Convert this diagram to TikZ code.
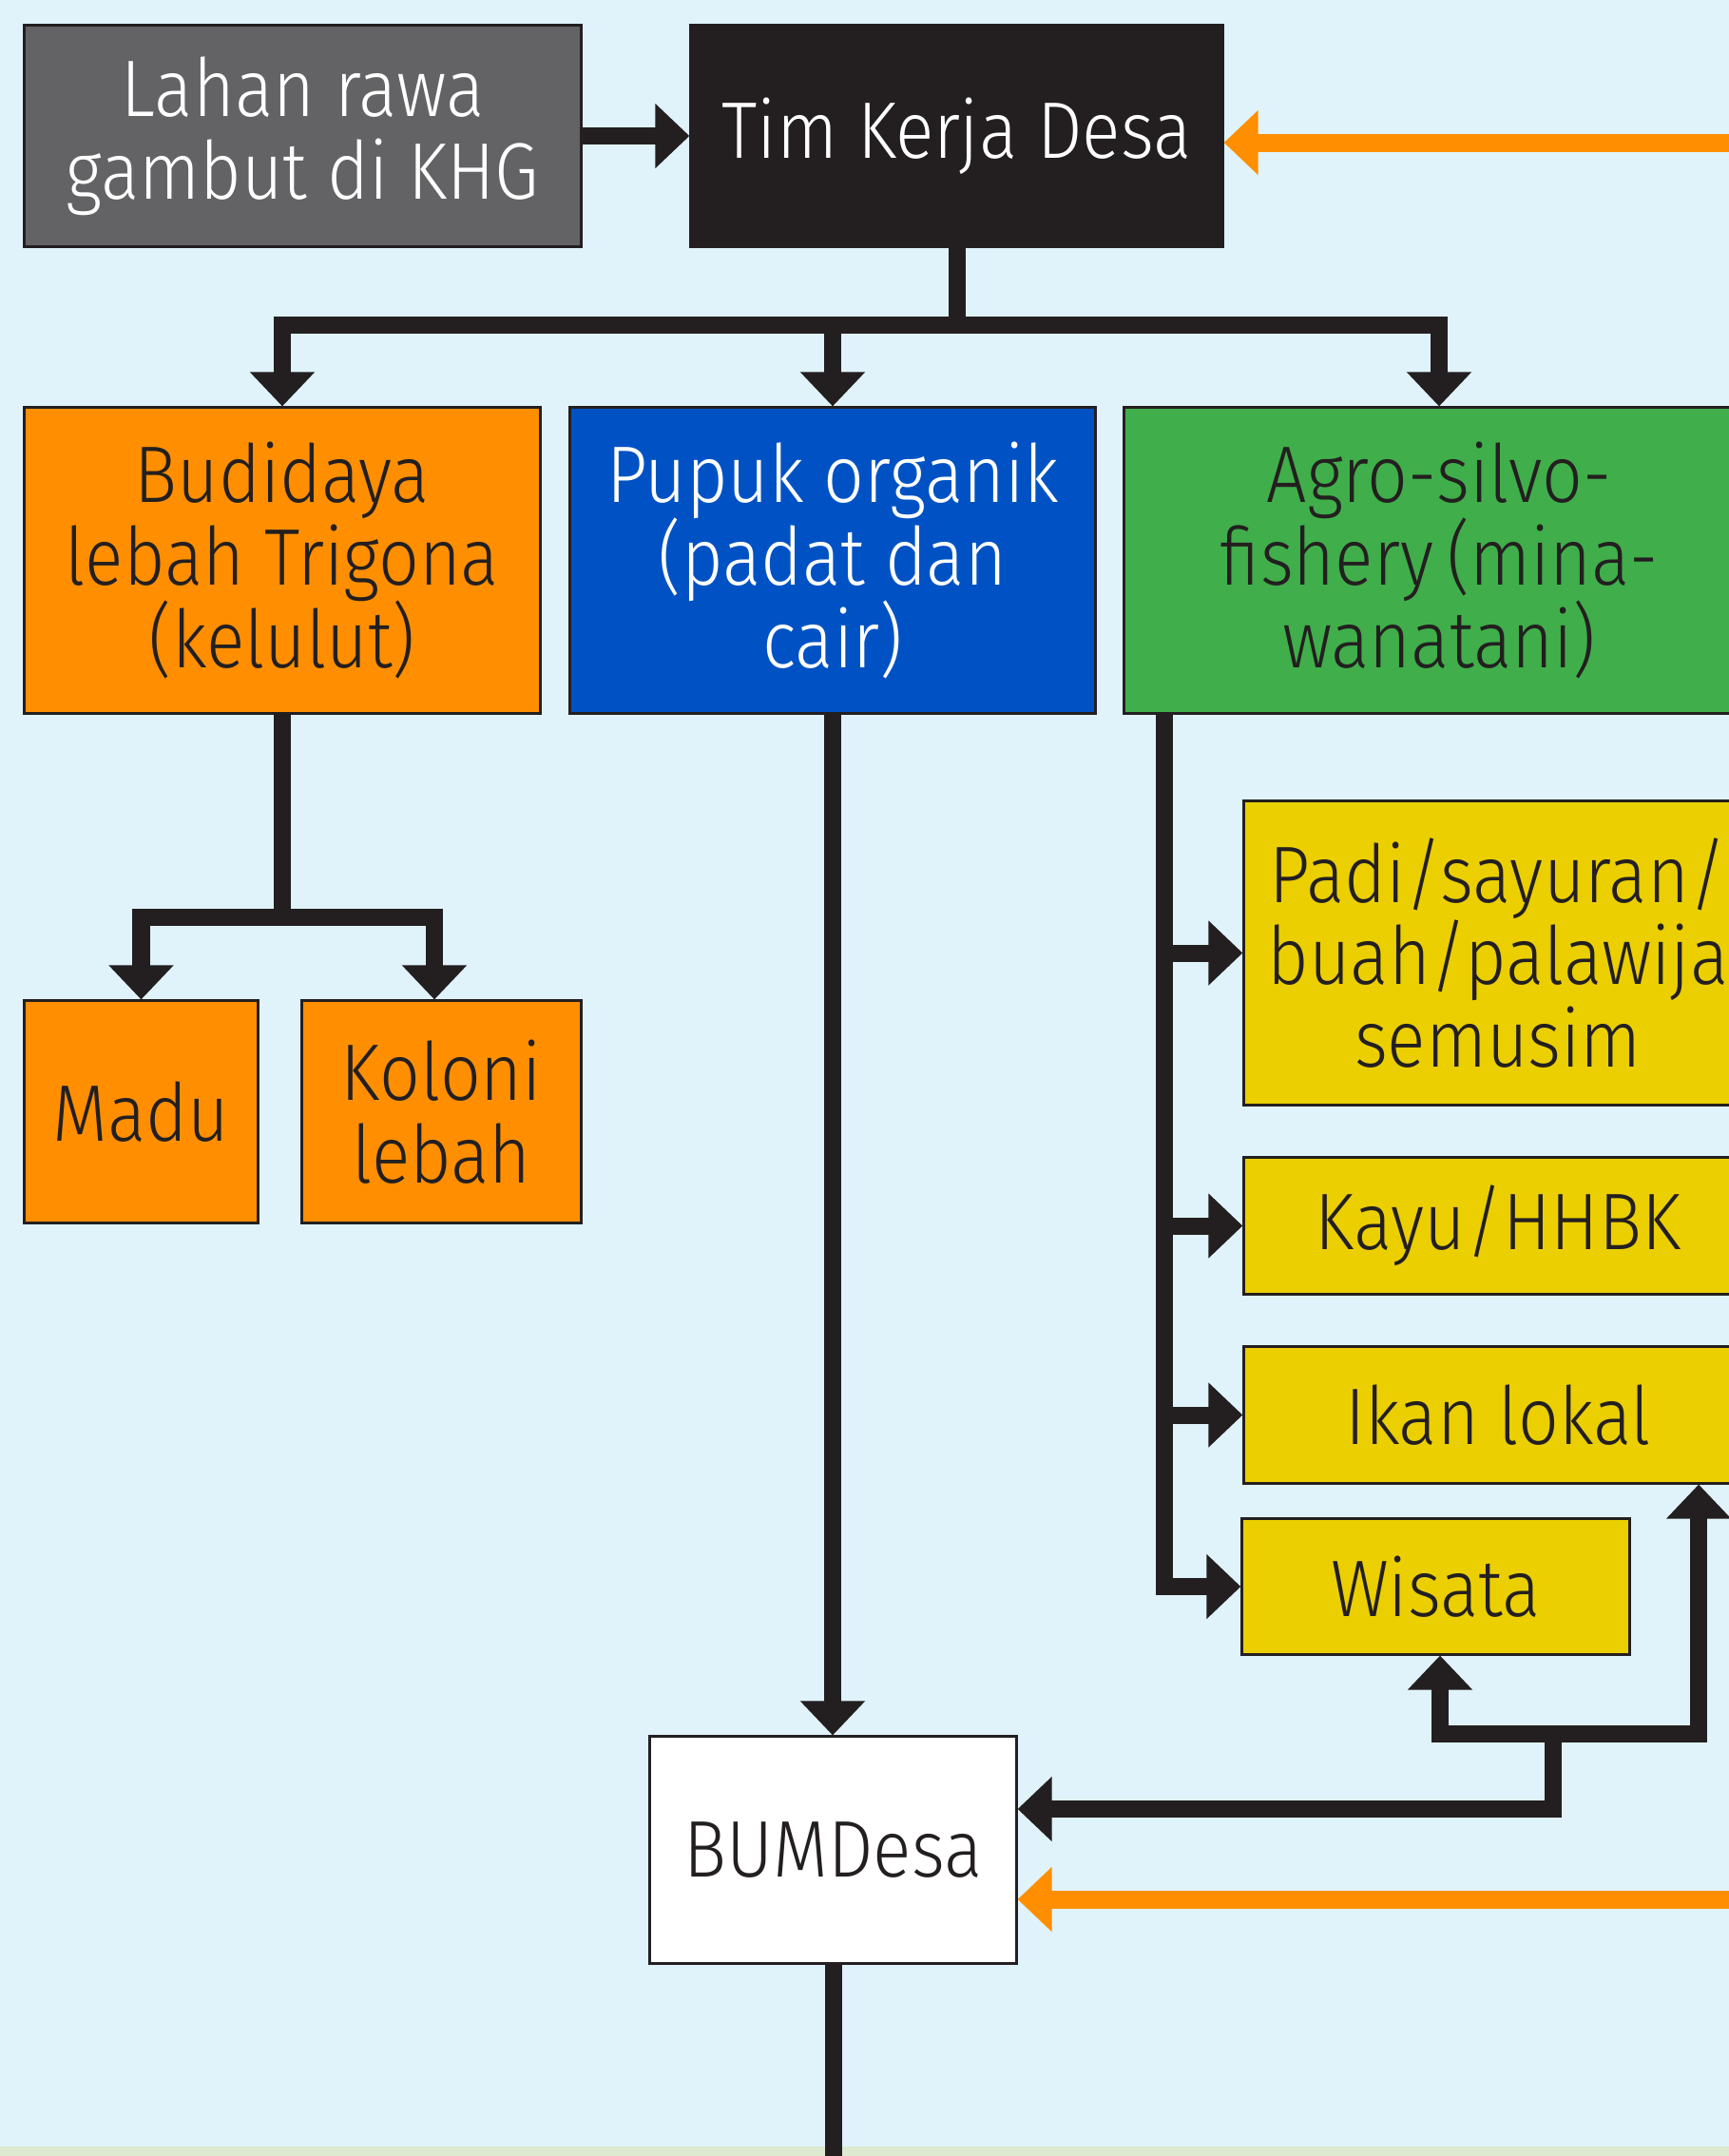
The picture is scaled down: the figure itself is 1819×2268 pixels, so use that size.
\documentclass[tikz,border=0pt]{standalone}
\usepackage{fontspec}
\setmainfont{Fira Sans}[UprightFont={* Light}, FakeStretch=0.89]
\usetikzlibrary{arrows.meta,calc}
\definecolor{bg}{RGB}{224,243,250}
\definecolor{ink}{RGB}{35,31,32}
\definecolor{grayb}{RGB}{99,99,101}
\definecolor{orng}{RGB}{255,143,0}
\definecolor{blu}{RGB}{0,82,196}
\definecolor{grn}{RGB}{64,174,74}
\definecolor{ylw}{RGB}{235,207,0}
\definecolor{strip}{RGB}{221,234,208}
\setlength{\lineskiplimit}{-20pt}
\begin{document}
\begin{tikzpicture}[x=0.01cm,y=-0.01cm,
  box/.style={draw=ink, line width=0.03cm, rectangle, inner sep=0pt, align=center,
    font=\fontsize{24pt}{24.7pt}\selectfont, text=ink},
  arr/.style={draw=ink, line width=0.18cm, line join=miter, -{Triangle[width=0.66cm,length=0.36cm]}},
  oarr/.style={draw=orng, line width=0.19cm, -{Triangle[width=0.66cm,length=0.36cm]}},
  ln/.style={draw=ink, line width=0.18cm, line join=miter}]
\useasboundingbox (0,0) rectangle (1819,2268);
\clip (0,0) rectangle (1819,2268);
\fill[bg] (0,0) rectangle (1819,2268);
\fill[strip] (0,2258) rectangle (1819,2268);
% nodes
\node[box, fill=grayb, text=white, minimum width=5.85cm, minimum height=2.32cm] (lahan) at (318.5,143) {Lahan rawa\\gambut di KHG};
\node[box, fill=ink, text=white, minimum width=5.59cm, minimum height=2.32cm] (tim) at (1006.5,143) {Tim Kerja Desa};
\node[box, fill=orng, minimum width=5.42cm, minimum height=3.21cm] (bud) at (297,589.5) {Budidaya\\lebah Trigona\\(kelulut)};
\node[box, fill=blu, text=white, minimum width=5.52cm, minimum height=3.21cm] (pup) at (876,589.5) {Pupuk organik\\(padat dan\\cair)};
\node[box, fill=grn, minimum width=6.62cm, minimum height=3.21cm] (agro) at (1514,589.5) {Agro-silvo-\\fishery\,(mina-\\wanatani)};
\node[box, fill=orng, minimum width=2.45cm, minimum height=2.33cm] (madu) at (148.5,1169.5) {Madu};
\node[box, fill=orng, minimum width=2.93cm, minimum height=2.33cm] (kol) at (464.5,1169.5) {Koloni\\lebah};
\node[box, fill=ylw, minimum width=5.34cm, minimum height=3.19cm] (padi) at (1576,1002.5) {Padi/sayuran/\\buah/palawija\\semusim};
\node[box, fill=ylw, minimum width=5.34cm, minimum height=1.43cm] (kayu) at (1576,1289.5) {Kayu/HHBK};
\node[box, fill=ylw, minimum width=5.34cm, minimum height=1.43cm] (ikan) at (1576,1488.5) {Ikan lokal};
\node[box, fill=ylw, minimum width=4.07cm, minimum height=1.42cm] (wis) at (1510.5,1669) {Wisata};
\node[box, fill=white, minimum width=3.85cm, minimum height=2.38cm] (bum) at (876.5,1946) {BUMDesa};
% connectors
\draw[arr] (lahan) -- (tim);
\coordinate (j1) at (1006.5,342);
\draw[ln] (tim.south) -- (j1);
\draw[arr] (j1) -| (bud.north);
\draw[arr] (j1) -| (agro.north);
\draw[arr] (j1) -| (pup.north);
\coordinate (j2) at (297,965);
\draw[ln] (bud.south) -- (j2);
\draw[arr] (j2) -| (madu.north);
\draw[arr] (j2) -| ([xshift=-0.075cm]kol.north);
\draw[arr] (pup.south) -- (pup.south |- bum.north);
\coordinate (bot) at (876,2300);
\draw[ln] (bum.south) -- (bum.south |- bot);
\coordinate (a0) at (1224.5,750);
\draw[arr] (a0) |- (wis.west);
\draw[arr] (a0 |- padi.west) -- (padi.west);
\draw[arr] (a0 |- kayu.west) -- (kayu.west);
\draw[arr] (a0 |- ikan.west) -- (ikan.west);
\coordinate (j3) at (1634,1824);
\draw[arr] (j3) |- ([yshift=0.43cm]bum.east);
\draw[arr] (j3) -| ([xshift=0.045cm]wis.south);
\draw[arr] (j3) -| ([xshift=2.11cm]ikan.south);
\coordinate (o1) at (1900,150);
\draw[oarr] (o1) -- (o1 -| tim.east);
\coordinate (o2) at (1900,1998);
\draw[oarr] (o2) -- (o2 -| bum.east);
\end{tikzpicture}
\end{document}
